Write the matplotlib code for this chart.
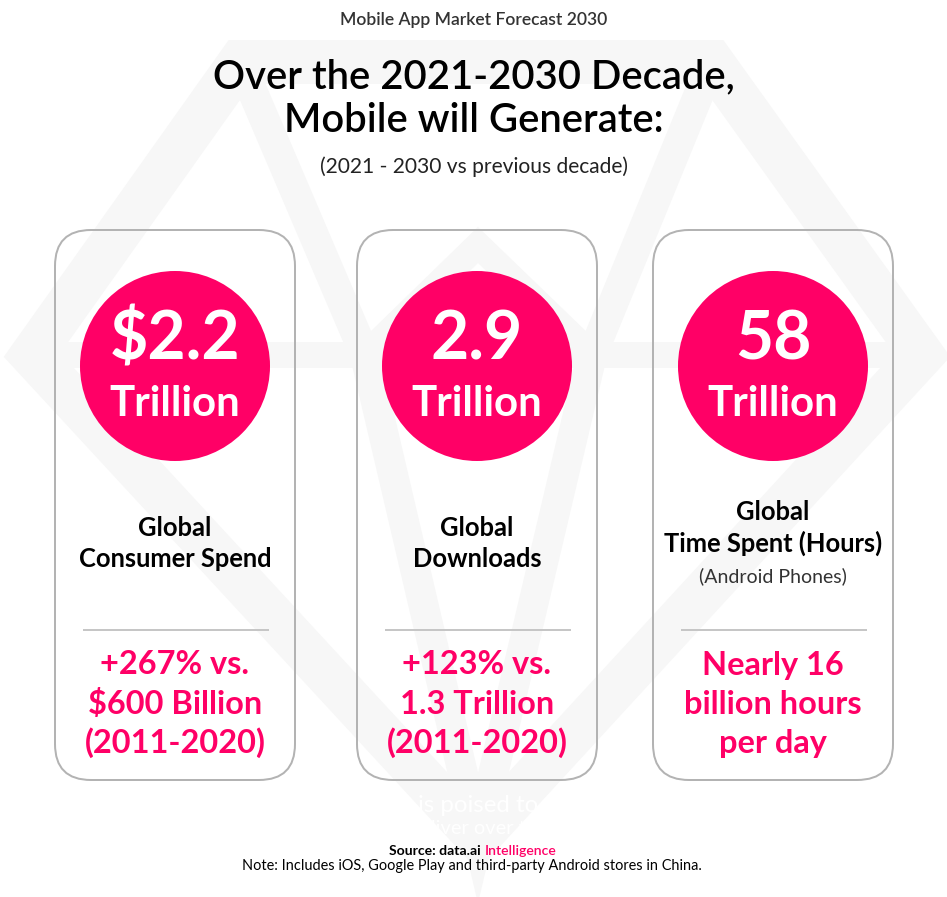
import matplotlib

matplotlib.use("Agg")

import matplotlib.pyplot as plt
from matplotlib.patches import Circle, FancyBboxPatch, Polygon

plt.rcParams["font.family"] = ["Lato", "DejaVu Sans"]

PINK = "#ff0066"
GREY_BG = "#f7f7f7"

# card contents, left to right
headline_values = ["$2.2", "2.9", "58"]
headline_units = ["Trillion", "Trillion", "Trillion"]
metric_labels = [
    ["Global", "Consumer Spend"],
    ["Global", "Downloads"],
    ["Global", "Time Spent (Hours)"],
]
metric_notes = ["", "", "(Android Phones)"]
comparisons = [
    ["+267% vs.", "$600 Billion", "(2011-2020)"],
    ["+123% vs.", "1.3 Trillion", "(2011-2020)"],
    ["Nearly 16", "billion hours", "per day"],
]

W, H = 947, 897
fig = plt.figure(figsize=(W / 100, H / 100), dpi=100)
ax = fig.add_axes([0, 0, 1, 1])
ax.set_xlim(0, W)
ax.set_ylim(H, 0)
ax.axis("off")

PT = 0.72  # px -> pt


def band(points, width_px, closed=False):
    poly = Polygon(points, closed=closed, fill=False, edgecolor=GREY_BG,
                   linewidth=width_px * PT, joinstyle="miter", zorder=0)
    ax.add_patch(poly)


# faint gem logo in the background
band([(240, 62), (712, 62), (922, 355), (478, 838), (32, 355)], 44, closed=True)
band([(32, 355), (922, 355)], 26)
band([(240, 62), (365, 355), (478, 838), (592, 355), (712, 62)], 30)
band([(365, 355), (478, 245), (592, 355)], 26)

# header
ax.text(474, 20, "Mobile App Market Forecast 2030", ha="center", va="center",
        fontsize=17.5 * PT, fontweight="semibold", color="#333333")
ax.text(474, 77, "Over the 2021-2030 Decade,", ha="center", va="center",
        fontsize=40 * PT, fontweight="semibold", color="black")
ax.text(474, 120, "Mobile will Generate:", ha="center", va="center",
        fontsize=40 * PT, fontweight="semibold", color="black")
ax.text(474, 167, "(2021 - 2030 vs previous decade)", ha="center", va="center",
        fontsize=21 * PT, fontweight="normal", color="#222222")

card_x = [55, 357, 653]
card_w = 240
card_top, card_bottom = 230, 780

for i, x0 in enumerate(card_x):
    cx = x0 + card_w / 2
    ax.add_patch(FancyBboxPatch((x0, card_top), card_w, card_bottom - card_top,
                                boxstyle="round,pad=0,rounding_size=36",
                                facecolor="none", edgecolor="#b3b3b3",
                                linewidth=2 * PT, zorder=2))
    ax.add_patch(Circle((cx, 366), 95, facecolor=PINK, edgecolor="none", zorder=3))
    ax.text(cx, 341, headline_values[i], ha="center", va="center",
            fontsize=66 * PT, fontweight="bold", color="white", zorder=4)
    ax.text(cx, 404, headline_units[i], ha="center", va="center",
            fontsize=42 * PT, fontweight="bold", color="white", zorder=4)

    lines = metric_labels[i]
    y0 = 528 if not metric_notes[i] else 512
    for j, s in enumerate(lines):
        ax.text(cx, y0 + 31 * j, s, ha="center", va="center",
                fontsize=25.5 * PT, fontweight="bold", color="black", zorder=4)
    if metric_notes[i]:
        ax.text(cx, 576, metric_notes[i], ha="center", va="center",
                fontsize=19.5 * PT, fontweight="normal", color="#333333", zorder=4)

    ax.plot([x0 + 29, x0 + 213], [630, 630], color="#c6c6c6",
            linewidth=2 * PT, zorder=3)
    for j, s in enumerate(comparisons[i]):
        ax.text(cx, 665 + 39 * j, s, ha="center", va="center",
                fontsize=32.5 * PT, fontweight="bold", color=PINK, zorder=4)

# ghost text left over from the source layout (white on the logo)
ax.text(478, 805, "is poised to", ha="center", va="center",
        fontsize=24 * PT, color="white", zorder=1)
ax.text(478, 829, "deliver over the", ha="center", va="center",
        fontsize=20 * PT, color="white", zorder=1)

# footer
ax.text(481, 851, "Source: data.ai", ha="right", va="center",
        fontsize=14 * PT, fontweight="bold", color="black")
ax.text(485, 851, "Intelligence", ha="left", va="center",
        fontsize=14 * PT, fontweight="semibold", color=PINK)
ax.text(472, 866, "Note: Includes iOS, Google Play and third-party Android stores in China.",
        ha="center", va="center", fontsize=14.5 * PT, color="black")

fig.savefig("out.png", dpi=100, facecolor="white")
